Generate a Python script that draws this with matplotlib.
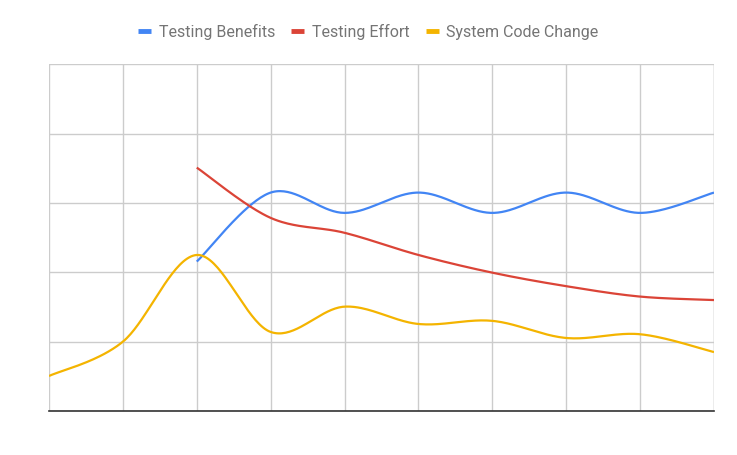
import numpy as np
import matplotlib
matplotlib.use("Agg")
import matplotlib.pyplot as plt
from matplotlib.lines import Line2D

plt.rcParams['font.family'] = ['Roboto', 'DejaVu Sans']

x_idx = list(range(10))
benefits = [None, None, 2.155, 3.15, 2.857, 3.15, 2.857, 3.15, 2.857, 3.15]
effort = [None, None, 3.51, 2.785, 2.57, 2.25, 1.995, 1.80, 1.65, 1.60]
code_change = [0.505, 1.0, 2.25, 1.14, 1.505, 1.255, 1.30, 1.053, 1.107, 0.85]

names = ["Testing Benefits", "Testing Effort", "System Code Change"]
colors = ["#4285f4", "#db4437", "#f4b400"]


def smooth(xs, ys, steps=40):
    # catmull-rom style curve through the points, drawing only
    xs = np.asarray(xs, float); ys = np.asarray(ys, float)
    n = len(xs)
    out_x, out_y = [], []
    for i in range(n - 1):
        p0 = (xs[i], ys[i]); p1 = (xs[i + 1], ys[i + 1])
        pa = (xs[i - 1], ys[i - 1]) if i > 0 else p0
        pb = (xs[i + 2], ys[i + 2]) if i + 2 < n else p1
        c1 = (p0[0] + (p1[0] - pa[0]) / 6, p0[1] + (p1[1] - pa[1]) / 6)
        c2 = (p1[0] - (pb[0] - p0[0]) / 6, p1[1] - (pb[1] - p0[1]) / 6)
        t = np.linspace(0, 1, steps)
        for k in range(2):
            v = ((1 - t) ** 3 * p0[k] + 3 * (1 - t) ** 2 * t * c1[k]
                 + 3 * (1 - t) * t ** 2 * c2[k] + t ** 3 * p1[k])
            (out_x if k == 0 else out_y).append(v)
    return np.concatenate(out_x), np.concatenate(out_y)


fig = plt.figure(figsize=(7.37, 4.55), dpi=100)
ax = fig.add_axes([49 / 737, 44 / 455, 665 / 737, 346.7 / 455])

for series, c in zip([benefits, effort, code_change], colors):
    pts = [(x, y) for x, y in zip(x_idx, series) if y is not None]
    sx, sy = smooth([p[0] for p in pts], [p[1] for p in pts])
    ax.plot(sx, sy, color=c, lw=1.6, solid_capstyle='butt', zorder=3)

ax.set_xlim(0, 9)
ax.set_ylim(0, 5)
ax.set_xticks(x_idx)
ax.set_yticks(range(6))
ax.grid(True, color="#cccccc", lw=1)
ax.tick_params(length=0, labelbottom=False, labelleft=False)
for s in ["top", "right", "left"]:
    ax.spines[s].set_visible(False)
ax.spines["bottom"].set_color("#333333")
ax.spines["bottom"].set_linewidth(1.2)
ax.axvline(9, color="#cccccc", lw=1)

handles = [Line2D([], [], color=c, lw=3.5, solid_capstyle='butt') for c in colors]
fig.legend(handles, names, loc="center", bbox_to_anchor=(0.5, 1 - 32 / 455),
           ncol=3, frameon=False, fontsize=11.5, labelcolor="#757575",
           handlelength=0.8, handletextpad=0.5, columnspacing=1.0)

fig.savefig("out.png", dpi=100, facecolor="white")
